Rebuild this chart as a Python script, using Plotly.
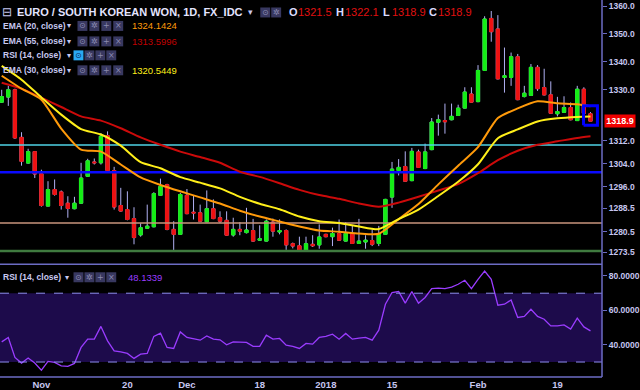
import math
import plotly.graph_objects as go

# ---------------- data ----------------
x_tick_idx = [6, 19, 28, 39, 49, 59, 72, 84]
x_tick_labels = ["Nov", "20", "Dec", "18", "2018", "15", "Feb", "19"]

opens = [1325.6, 1327.4, 1330.0, 1313.2, 1304.2, 1308.2, 1300.5, 1289.3, 1295.0, 1294.2,
         1290.3, 1288.4, 1290.3, 1299.6, 1304.6, 1304.3, 1313.8, 1301.6, 1289.5, 1288.1,
         1285.0, 1279.4, 1281.7, 1282.2, 1293.0, 1296.7, 1281.3, 1279.6, 1293.0, 1287.2,
         1287.0, 1283.9, 1288.4, 1285.3, 1284.4, 1279.4, 1281.3, 1280.2, 1280.9, 1277.6,
         1277.3, 1283.8, 1280.4, 1280.9, 1276.4, 1275.7, 1273.9, 1276.2, 1276.0, 1279.6,
         1278.8, 1279.9, 1277.3, 1279.9, 1276.5, 1277.0, 1277.5, 1276.5, 1279.6, 1292.4,
         1301.6, 1303.0, 1298.1, 1308.1, 1302.3, 1308.9, 1318.5, 1319.1, 1319.4, 1320.9,
         1323.5, 1328.5, 1325.8, 1336.9, 1355.6, 1351.8, 1334.4, 1334.4, 1341.8, 1327.6,
         1328.0, 1338.0, 1330.8, 1328.2, 1321.5, 1322.0, 1323.7, 1319.1, 1330.2, 1321.5]
highs = [1330.0, 1331.4, 1330.4, 1315.0, 1309.2, 1308.4, 1301.9, 1297.9, 1298.5, 1294.7,
         1292.7, 1292.5, 1304.3, 1305.7, 1305.8, 1314.7, 1315.3, 1302.9, 1295.6, 1294.4,
         1288.9, 1283.4, 1289.8, 1294.1, 1298.8, 1297.0, 1284.1, 1293.9, 1295.2, 1293.0,
         1289.8, 1294.7, 1291.6, 1287.5, 1287.5, 1285.3, 1283.8, 1288.7, 1284.9, 1282.7,
         1284.7, 1285.0, 1284.7, 1281.3, 1276.8, 1278.8, 1278.8, 1279.3, 1283.0, 1279.8,
         1281.9, 1284.7, 1283.8, 1282.7, 1284.9, 1279.3, 1281.3, 1282.5, 1291.8, 1304.6,
         1305.6, 1308.3, 1309.5, 1308.9, 1311.0, 1320.0, 1321.2, 1325.1, 1325.1, 1324.7,
         1330.9, 1330.9, 1338.8, 1356.4, 1358.3, 1356.8, 1345.1, 1343.3, 1342.8, 1331.4,
         1339.2, 1338.8, 1337.5, 1333.0, 1327.5, 1327.7, 1325.5, 1331.4, 1330.9, 1322.1]
lows = [1325.4, 1324.3, 1312.7, 1303.3, 1304.0, 1299.0, 1289.1, 1289.3, 1292.9, 1288.1,
        1285.3, 1288.2, 1290.1, 1299.5, 1303.7, 1303.7, 1301.2, 1288.1, 1287.4, 1284.4,
        1276.2, 1278.8, 1281.5, 1282.0, 1292.9, 1281.0, 1273.9, 1279.4, 1286.5, 1284.7,
        1283.9, 1283.8, 1284.8, 1283.5, 1279.1, 1278.8, 1279.3, 1279.9, 1277.1, 1277.4,
        1277.2, 1278.8, 1279.6, 1274.3, 1274.8, 1274.2, 1273.8, 1275.3, 1274.7, 1278.6,
        1275.6, 1277.5, 1277.2, 1276.3, 1276.3, 1274.7, 1275.6, 1275.6, 1279.4, 1288.7,
        1299.9, 1297.8, 1297.9, 1302.5, 1302.1, 1308.7, 1313.8, 1314.5, 1319.2, 1320.8,
        1323.4, 1325.5, 1325.6, 1336.8, 1347.2, 1333.7, 1329.0, 1331.4, 1326.3, 1327.3,
        1327.9, 1329.6, 1328.0, 1321.6, 1320.6, 1321.9, 1319.2, 1319.0, 1321.4, 1318.9]
closes = [1327.6, 1330.0, 1313.0, 1304.8, 1308.2, 1300.4, 1289.5, 1295.0, 1293.3, 1289.5,
          1288.5, 1290.3, 1299.0, 1305.0, 1304.3, 1313.6, 1301.6, 1289.0, 1287.6, 1284.7,
          1278.5, 1281.9, 1282.4, 1293.6, 1296.1, 1281.3, 1279.6, 1293.3, 1286.7, 1286.9,
          1284.1, 1288.4, 1285.0, 1284.1, 1279.3, 1281.3, 1280.7, 1281.1, 1277.3, 1278.1,
          1284.1, 1280.7, 1280.9, 1276.0, 1275.6, 1274.3, 1276.4, 1275.7, 1278.7, 1278.8,
          1279.9, 1277.6, 1279.9, 1276.5, 1277.3, 1277.6, 1276.2, 1279.8, 1291.6, 1302.1,
          1302.7, 1297.9, 1308.3, 1302.7, 1308.1, 1318.6, 1319.4, 1318.7, 1320.6, 1323.5,
          1329.2, 1325.6, 1336.9, 1355.4, 1350.8, 1333.9, 1335.0, 1341.8, 1326.5, 1328.8,
          1338.0, 1330.4, 1328.2, 1321.7, 1322.3, 1323.7, 1319.4, 1330.2, 1321.7, 1318.9]

ema_idx = [0, 3, 6, 9, 12, 15, 18, 21, 24, 27, 30, 33, 36, 39, 42, 45, 48, 51, 54, 57,
           60, 63, 66, 69, 72, 75, 78, 81, 84, 87, 89]
ema20 = [1335.0, 1330.4, 1326.5, 1316.3, 1308.9, 1308.2, 1303.7, 1299.2, 1296.6, 1294.4,
         1292.3, 1290.2, 1287.7, 1285.7, 1284.0, 1282.3, 1280.9, 1280.5, 1279.9, 1279.8,
         1284.8, 1290.0, 1296.8, 1303.3, 1309.8, 1320.0, 1323.4, 1325.9, 1325.2, 1324.9, 1324.1424]
ema30 = [1338.5, 1333.6, 1327.3, 1321.2, 1316.1, 1314.2, 1310.3, 1304.5, 1302.4, 1299.3,
         1297.4, 1295.4, 1292.5, 1290.1, 1288.2, 1285.7, 1284.1, 1283.5, 1282.3, 1281.4,
         1284.8, 1288.1, 1292.8, 1297.7, 1303.8, 1312.9, 1316.0, 1318.8, 1319.9, 1320.4, 1320.5449]
ema55 = [1332.5, 1330.4, 1327.2, 1323.9, 1320.6, 1319.1, 1316.4, 1313.2, 1310.6, 1308.2,
         1306.3, 1304.3, 1301.2, 1299.4, 1297.2, 1294.9, 1293.1, 1291.8, 1290.2, 1289.1,
         1290.5, 1292.5, 1294.7, 1296.9, 1300.7, 1305.2, 1308.5, 1310.6, 1311.8, 1313.0, 1313.5996]

rsi = [41.7, 44.3, 32.7, 29.4, 32.3, 29.4, 25.3, 30.4, 29.8, 27.8,
       27.5, 29.2, 38.5, 43.3, 43.3, 50.7, 42.3, 36.5, 35.9, 35.0,
       32.1, 34.6, 35.0, 44.9, 46.8, 38.5, 37.9, 47.5, 44.3, 43.7,
       42.7, 45.2, 43.3, 42.9, 40.0, 41.7, 41.7, 41.4, 39.1, 39.1,
       45.6, 43.3, 43.7, 39.8, 39.1, 37.9, 40.8, 40.4, 44.3, 44.9,
       46.2, 43.3, 46.6, 43.3, 43.9, 44.3, 42.7, 48.5, 63.6, 70.4,
       71.0, 64.2, 71.0, 64.2, 67.5, 72.7, 72.9, 72.7, 73.6, 75.2,
       77.5, 72.7, 78.1, 82.9, 78.1, 63.0, 63.6, 66.1, 55.9, 56.5,
       60.7, 56.5, 54.9, 51.0, 51.0, 51.6, 49.1, 55.5, 50.4, 48.1339]

h_levels = [1310.5, 1301.0, 1283.5, 1273.9]
h_colors = ["#4fd3e6", "#0a0aff", "#c9957d", "#3f7a3f"]
h_widths = [1.5, 2.5, 1.5, 2.5]

price_ticks = [1273.5, 1280.5, 1288.5, 1296.0, 1304.0, 1312.0, 1330.0, 1340.0, 1350.0, 1360.0]
rsi_ticks = [40, 60, 80]
rsi_bands = [30, 70]
price_range = [1269.4, 1362.3]
rsi_range = [21.3, 86.8]

# ---------------- layout geometry ----------------
W, H = 640, 390
PW, PH = 606, 378          # plot area size (pixels)
SPLIT_PX = 265             # divider between price and RSI panes
split = (PH - SPLIT_PX) / PH

def px(x):
    return x / PW

def py(y):
    return 1 - y / PH

n = len(opens)
idx = list(range(n))
x_range = [-0.255, 90.74]

AX = "#6c6cc4"
LBL = "#c6c6f0"
GREEN = "#14ee14"
RED = "#ee1111"
WICK = "#b0b0f2"
FONT = "Liberation Sans"

fig = go.Figure()

# horizontal drawn levels
for lv, c, w in zip(h_levels, h_colors, h_widths):
    fig.add_trace(go.Scatter(x=[x_range[0] - 1, x_range[1] + 1], y=[lv, lv], mode="lines",
                             line=dict(color=c, width=w), xaxis="x", yaxis="y",
                             hoverinfo="skip", showlegend=False))

# candles: wicks layer
fig.add_trace(go.Candlestick(x=idx, open=opens, high=highs, low=lows, close=closes,
                             increasing=dict(line=dict(color=WICK, width=1), fillcolor=WICK),
                             decreasing=dict(line=dict(color=WICK, width=1), fillcolor=WICK),
                             xaxis="x", yaxis="y", showlegend=False, hoverinfo="skip"))
# candles: bodies layer
body_hi = [max(o, c) for o, c in zip(opens, closes)]
body_lo = [min(o, c) for o, c in zip(opens, closes)]
fig.add_trace(go.Candlestick(x=idx, open=opens, high=body_hi, low=body_lo, close=closes,
                             increasing=dict(line=dict(color=GREEN, width=1), fillcolor=GREEN),
                             decreasing=dict(line=dict(color=RED, width=1), fillcolor=RED),
                             xaxis="x", yaxis="y", showlegend=False, hoverinfo="skip"))

# EMAs
for vals, col in [(ema55, "#cc0a0a"), (ema20, "#ff9a0a"), (ema30, "#ffef1a")]:
    fig.add_trace(go.Scatter(x=ema_idx, y=vals, mode="lines",
                             line=dict(color=col, width=2, shape="spline", smoothing=0.6),
                             xaxis="x", yaxis="y", hoverinfo="skip", showlegend=False))

# highlight box around last candle
li = n - 1
bx0, bx1 = li - 1.05, li + 1.05
by0, by1 = lows[li] - 1.4, highs[li] + 2.2
fig.add_trace(go.Scatter(x=[bx0, bx1, bx1, bx0, bx0], y=[by0, by0, by1, by1, by0], mode="lines",
                         line=dict(color="#0000ff", width=3), xaxis="x", yaxis="y",
                         hoverinfo="skip", showlegend=False))

# RSI
fig.add_trace(go.Scatter(x=idx, y=rsi, mode="lines", line=dict(color="#9a3cff", width=1.3),
                         xaxis="x", yaxis="y2", hoverinfo="skip", showlegend=False))

shapes = [
    dict(type="rect", xref="paper", yref="y2", x0=0, x1=1, y0=rsi_bands[0], y1=rsi_bands[1],
         fillcolor="#1d0b4b", line=dict(width=0), layer="below"),
]
for b in rsi_bands:
    shapes.append(dict(type="line", xref="paper", yref="y2", x0=0, x1=1, y0=b, y1=b,
                       line=dict(color="#8e8ef0", width=1, dash="dash")))
shapes += [
    dict(type="line", xref="paper", yref="paper", x0=0, x1=1, y0=split, y1=split,
         line=dict(color=AX, width=1.5)),
    dict(type="line", xref="paper", yref="paper", x0=0, x1=1, y0=0, y1=0,
         line=dict(color=AX, width=1.5)),
    dict(type="line", xref="paper", yref="paper", x0=1, x1=1, y0=0, y1=1,
         line=dict(color=AX, width=1.5)),
]

ann = []

def txt(x, y, s, color, size, bold=False, anchor="left"):
    ann.append(dict(xref="paper", yref="paper", x=px(x), y=py(y), text=s, showarrow=False,
                    xanchor=anchor, yanchor="middle", borderpad=0,
                    font=dict(family=FONT, size=size, color=color,
                              weight="bold" if bold else "normal")))

def icon(x, y, glyph, bg="#383860", fg="#8a8ab0", size=8):
    shapes.append(dict(type="rect", xref="paper", yref="paper", x0=px(x), x1=px(x + 10),
                       y0=py(y + 5), y1=py(y - 5), fillcolor=bg, line=dict(width=0)))
    ann.append(dict(xref="paper", yref="paper", x=px(x + 5), y=py(y), text=glyph, showarrow=False,
                    xanchor="center", yanchor="middle", borderpad=0,
                    font=dict(family="DejaVu Sans", size=size, color=fg)))

# title line
txt(1, 12.5, "⊟", "#c8c8f0", 12)
txt(16, 12.5, "EURO / SOUTH KOREAN WON, 1D, FX_IDC", "#e4e4ff", 11, bold=True)
txt(249, 12.5, "▾", "#c8c8f0", 9)
icon(262, 12.5, "⊙")
icon(273, 12.5, "✲")
ohlc_lbl = ["O", "H", "L", "C"]
ohlc_val = [opens[-1], highs[-1], lows[-1], closes[-1]]
ohlc_x = [290, 337, 385, 431]
for lx, l, v in zip(ohlc_x, ohlc_lbl, ohlc_val):
    txt(lx, 12.5, l, "#dcdcff", 11, bold=True)
    txt(lx + 9, 12.5, f"{v:.1f}", "#e01010", 11)

# indicator legend rows
rows = [
    (26, "EMA (20, close)", f"{ema20[-1]:.4f}", "#ff9a0a", False),
    (41.5, "EMA (55, close)", f"{ema55[-1]:.4f}", "#c00000", False),
    (55.5, "RSI (14, close)", "", "", True),
    (70.5, "EMA (30, close)", f"{ema30[-1]:.4f}", "#ffef1a", False),
]
for yy, name, val, vcol, hl in rows:
    txt(2, yy, name, "#c8c8f0", 8.5, bold=True)
    txt(66, yy, "▾", "#c8c8f0", 8)
    if hl:
        icon(74, yy, "⊙", bg="#2aa8f2", fg="#0a2a5a")
        icon(85, yy, "✲")
        icon(96, yy, "+")
        icon(107, yy, "×")
    else:
        icon(78, yy, "⊙")
        icon(90, yy, "✲")
        icon(102, yy, "+")
        icon(114, yy, "×")
    if val:
        txt(132, yy, val, vcol, 9.5)

# RSI legend
txt(2, 278, "RSI (14, close)", "#c8c8f0", 8.5, bold=True)
txt(64, 278, "▾", "#c8c8f0", 8)
icon(74, 278, "⊙")
icon(85, 278, "✲")
icon(96, 278, "+")
icon(107, 278, "×")
txt(128, 278, f"{rsi[-1]:.4f}", "#9a3cff", 9.5)

# last price label on the axis
lo_l, hi_l = math.log10(price_range[0]), math.log10(price_range[1])
last_paper_y = split + (math.log10(closes[-1]) - lo_l) / (hi_l - lo_l) * (1 - split)
ann.append(dict(xref="paper", yref="paper", x=px(608), y=last_paper_y, text=f"<b>{closes[-1]:.1f}</b>",
                showarrow=False, xanchor="left", yanchor="middle", bgcolor="#f00000",
                width=30, height=12, borderpad=0,
                font=dict(family=FONT, size=9, color="#ffffff")))

fig.update_layout(
    width=W, height=H,
    margin=dict(l=0, r=W - PW, t=0, b=H - PH),
    paper_bgcolor="#000000", plot_bgcolor="#000000",
    showlegend=False, hovermode=False,
    shapes=shapes, annotations=ann,
    xaxis=dict(range=x_range, anchor="y2", domain=[0, 1], showgrid=False, zeroline=False,
               tickmode="array", tickvals=x_tick_idx, ticktext=x_tick_labels, ticks="",
               tickfont=dict(family=FONT, size=9.5, color=LBL, weight="bold"),
               rangeslider=dict(visible=False), showline=False, ticklabelstandoff=0),
    yaxis=dict(type="log", domain=[split, 1], anchor="x", side="right",
               range=[lo_l, hi_l], showgrid=False, zeroline=False,
               tickmode="array", tickvals=price_ticks,
               ticktext=[f"{v:.1f}" for v in price_ticks],
               ticks="outside", ticklen=4, tickcolor=AX,
               tickfont=dict(family=FONT, size=8.5, color=LBL, weight="bold")),
    yaxis2=dict(domain=[0, split], anchor="x", side="right", range=rsi_range,
                showgrid=False, zeroline=False, tickmode="array", tickvals=rsi_ticks,
                ticktext=[f"{v:.4f}" for v in rsi_ticks], ticks="outside", ticklen=4,
                tickcolor=AX, tickfont=dict(family=FONT, size=8.5, color=LBL, weight="bold")),
)

fig.write_html("out.html")
